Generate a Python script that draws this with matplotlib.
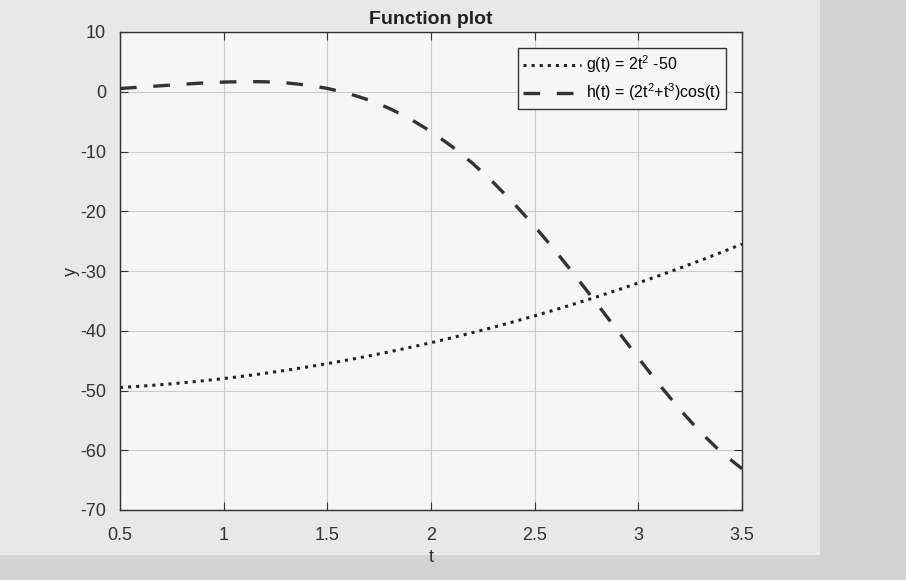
import numpy as np
import matplotlib
matplotlib.use("Agg")
import matplotlib.pyplot as plt
from matplotlib.patches import Rectangle

plt.rcParams['font.family'] = ['Liberation Sans', 'DejaVu Sans']
plt.rcParams['mathtext.fontset'] = 'custom'
plt.rcParams['mathtext.rm'] = 'Liberation Sans'
plt.rcParams['axes.unicode_minus'] = False

# values (t every 0.1 from 0.5 to 3.5)
t = [0.5, 0.6, 0.7, 0.8, 0.9, 1.0, 1.1, 1.2, 1.3, 1.4, 1.5, 1.6, 1.7, 1.8, 1.9, 2.0,
     2.1, 2.2, 2.3, 2.4, 2.5, 2.6, 2.7, 2.8, 2.9, 3.0, 3.1, 3.2, 3.3, 3.4, 3.5]
g = [-49.50, -49.28, -49.02, -48.72, -48.38, -48.00, -47.58, -47.12, -46.62, -46.08,
     -45.50, -44.88, -44.22, -43.52, -42.78, -42.00, -41.18, -40.32, -39.42, -38.48,
     -37.50, -36.48, -35.42, -34.32, -33.18, -32.00, -30.78, -29.52, -28.22, -26.88,
     -25.50]
h = [0.55, 0.77, 1.01, 1.25, 1.46, 1.62, 1.70, 1.67, 1.49, 1.13, 0.56, -0.27, -1.38,
     -2.80, -4.55, -6.66, -9.13, -11.96, -15.16, -18.69, -22.53, -26.65, -30.98,
     -35.46, -40.01, -44.55, -48.97, -53.16, -56.99, -60.35, -63.09]

x_ticks = [0.5, 1, 1.5, 2, 2.5, 3, 3.5]
x_labels = ["0.5", "1", "1.5", "2", "2.5", "3", "3.5"]
y_ticks = [10, 0, -10, -20, -30, -40, -50, -60, -70]

W, H = 906, 580
fig = plt.figure(figsize=(W / 100, H / 100), dpi=100)
fig.patch.set_facecolor('#d3d3d3')
# lighter figure window area
fig.patches.append(Rectangle((0, 1 - 555 / H), 820 / W, 555 / H, transform=fig.transFigure,
                             facecolor='#e8e8e8', edgecolor='none', zorder=-5))

ax = fig.add_axes([120 / W, 1 - 510 / H, (742 - 120) / W, (510 - 32) / H])
ax.set_zorder(2)
ax.set_facecolor('#f6f6f6')

ax.plot(t, g, color='#222222', linestyle=':', linewidth=2.2, label=r'g(t) = 2t$^2$ -50')
ax.plot(t, h, color='#333333', linestyle=(0, (5, 5)), linewidth=2.4,
        label=r'h(t) = (2t$^2$+t$^3$)cos(t)')

ax.set_xlim(0.5, 3.5)
ax.set_ylim(-70, 10)
ax.set_xticks(x_ticks)
ax.set_xticklabels(x_labels)
ax.set_yticks(y_ticks)
ax.grid(True, color='#cccccc', linewidth=0.8)
ax.tick_params(direction='in', top=True, right=True, length=6, labelsize=13,
               colors='#333333')
ax.tick_params(axis='x', pad=12)
ax.tick_params(axis='y', pad=10)
for spine in ax.spines.values():
    spine.set_color('#333333')
    spine.set_linewidth(1.0)

ax.set_title('Function plot', fontweight='bold', fontsize=14, color='#222222', pad=6)
ax.set_xlabel('t', fontsize=13, color='#333333', labelpad=4)
ax.set_ylabel('y', fontsize=13, color='#333333', labelpad=0)

leg = ax.legend(loc='upper right', fontsize=11.5, frameon=True, fancybox=False,
                borderaxespad=1.0, handlelength=3.6, handletextpad=0.3,
                labelspacing=0.4, borderpad=0.35)
leg.get_frame().set_edgecolor('#333333')
leg.get_frame().set_linewidth(1.0)
leg.get_frame().set_facecolor('#f6f6f6')
leg.get_frame().set_alpha(1.0)

fig.savefig('out.png', dpi=100, facecolor=fig.get_facecolor())
